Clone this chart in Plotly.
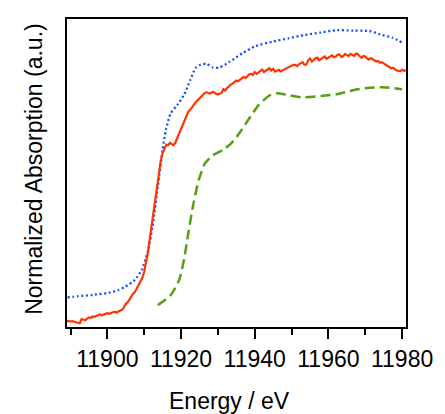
import plotly.graph_objects as go

# Normalized XANES spectra (arbitrary offset units)
energy_red = [11889 + 0.5 * i for i in range(185)]
absorb_red = [
    0.019, 0.020, 0.018, 0.019, 0.017, 0.016, 0.014, 0.012, 0.026, 0.024,
    0.022, 0.027, 0.031, 0.029, 0.034, 0.033, 0.036, 0.039, 0.041, 0.038,
    0.040, 0.043, 0.045, 0.043, 0.046, 0.048, 0.049, 0.047, 0.050, 0.052,
    0.056, 0.064, 0.075, 0.080, 0.090, 0.097, 0.108, 0.114, 0.125, 0.135,
    0.148, 0.160, 0.180, 0.205, 0.240, 0.285, 0.330, 0.375, 0.420, 0.465,
    0.505, 0.540, 0.565, 0.580, 0.592, 0.590, 0.598, 0.594, 0.590, 0.600,
    0.615, 0.625, 0.642, 0.655, 0.675, 0.690, 0.700, 0.705, 0.712, 0.722,
    0.730, 0.737, 0.742, 0.750, 0.755, 0.760, 0.762, 0.760, 0.758, 0.763,
    0.762, 0.757, 0.755, 0.758, 0.760, 0.772, 0.768, 0.776, 0.783, 0.787,
    0.790, 0.796, 0.800, 0.798, 0.803, 0.810, 0.812, 0.808, 0.815, 0.820,
    0.822, 0.818, 0.828, 0.822, 0.826, 0.832, 0.836, 0.828, 0.832, 0.838,
    0.840, 0.833, 0.838, 0.829, 0.832, 0.835, 0.830, 0.833, 0.836, 0.840,
    0.842, 0.846, 0.848, 0.851, 0.851, 0.847, 0.853, 0.858, 0.860, 0.851,
    0.852, 0.866, 0.872, 0.862, 0.866, 0.873, 0.874, 0.866, 0.870, 0.876,
    0.878, 0.871, 0.875, 0.880, 0.882, 0.876, 0.878, 0.884, 0.885, 0.877,
    0.879, 0.886, 0.884, 0.880, 0.887, 0.883, 0.880, 0.888, 0.886, 0.879,
    0.874, 0.880, 0.878, 0.872, 0.868, 0.873, 0.870, 0.866, 0.862, 0.864,
    0.858, 0.860, 0.856, 0.853, 0.850, 0.846, 0.840, 0.842, 0.836, 0.833,
    0.832, 0.830, 0.835, 0.832, 0.834,
]

energy_blue = [
    11889.2, 11892.0, 11896.0, 11900.4, 11903.0, 11904.9, 11907.5, 11909.3,
    11911.1, 11912.4, 11913.7, 11915.0, 11915.9, 11917.2, 11919.0, 11920.8,
    11922.5, 11923.9, 11925.2, 11927.0, 11928.7, 11930.5, 11933.2, 11936.7,
    11940.2, 11944.7, 11949.1, 11953.5, 11957.9, 11962.3, 11966.8, 11971.2,
    11973.8, 11977.4, 11980.0,
]
absorb_blue = [
    0.096, 0.100, 0.104, 0.111, 0.120, 0.131, 0.153, 0.185,
    0.250, 0.337, 0.456, 0.575, 0.640, 0.694, 0.721, 0.753,
    0.802, 0.840, 0.851, 0.854, 0.842, 0.843, 0.861, 0.889,
    0.912, 0.926, 0.937, 0.948, 0.956, 0.964, 0.962, 0.961,
    0.951, 0.939, 0.924,
]

energy_green = [
    11913.7, 11917.2, 11919.5, 11920.8, 11922.1, 11923.4, 11924.8, 11926.5,
    11928.7, 11931.4, 11933.6, 11935.8, 11938.5, 11941.1, 11943.8, 11946.0,
    11949.1, 11952.7, 11957.9, 11962.3, 11966.8, 11971.2, 11975.6, 11980.0,
]
absorb_green = [
    0.071, 0.104, 0.153, 0.218, 0.315, 0.402, 0.477, 0.531,
    0.558, 0.575, 0.596, 0.629, 0.677, 0.721, 0.750, 0.759,
    0.753, 0.746, 0.750, 0.756, 0.769, 0.777, 0.778, 0.772,
]

font_family = "Liberation Sans, Arial, sans-serif"

fig = go.Figure()
fig.add_trace(go.Scatter(
    x=energy_blue, y=absorb_blue, mode="lines",
    line=dict(color="#1550ff", width=2.3, dash="2px,2.6px", shape="spline", smoothing=0.6),
    showlegend=False,
))
fig.add_trace(go.Scatter(
    x=energy_green, y=absorb_green, mode="lines",
    line=dict(color="#55a012", width=2.5, dash="10px,5px", shape="spline", smoothing=0.6),
    showlegend=False,
))
fig.add_trace(go.Scatter(
    x=energy_red, y=absorb_red, mode="lines",
    line=dict(color="#ff3300", width=2.2),
    showlegend=False,
))

fig.update_layout(
    width=445, height=414,
    margin=dict(l=67, r=31, t=19, b=87),
    paper_bgcolor="white", plot_bgcolor="white",
    font=dict(family=font_family, size=23, color="black"),
    xaxis=dict(
        range=[11889.05, 11981.06],
        tick0=11900, dtick=20, tickformat="d",
        ticks="outside", ticklen=10, tickwidth=2, tickcolor="black",
        minor=dict(ticks="outside", ticklen=6, tickwidth=2, dtick=10, tick0=11890, tickcolor="black"),
        showline=True, linecolor="black", linewidth=2, mirror=True,
        showgrid=False, zeroline=False,
        tickfont=dict(size=23),
    ),
    yaxis=dict(
        range=[0, 1],
        showticklabels=False, ticks="",
        showline=True, linecolor="black", linewidth=2, mirror=True,
        showgrid=False, zeroline=False,
    ),
    annotations=[
        dict(text="Energy / eV", xref="paper", yref="paper",
             x=(233 - 67) / 347, y=-(401 - 327) / 308,
             xanchor="center", yanchor="middle", showarrow=False,
             font=dict(size=23)),
        dict(text="Normalized Absorption (a.u.)", xref="paper", yref="paper",
             x=(33 - 67) / 347, y=(327 - 169) / 308,
             xanchor="center", yanchor="middle", textangle=-90, showarrow=False,
             font=dict(size=23)),
    ],
)

fig.write_html("out.html")
